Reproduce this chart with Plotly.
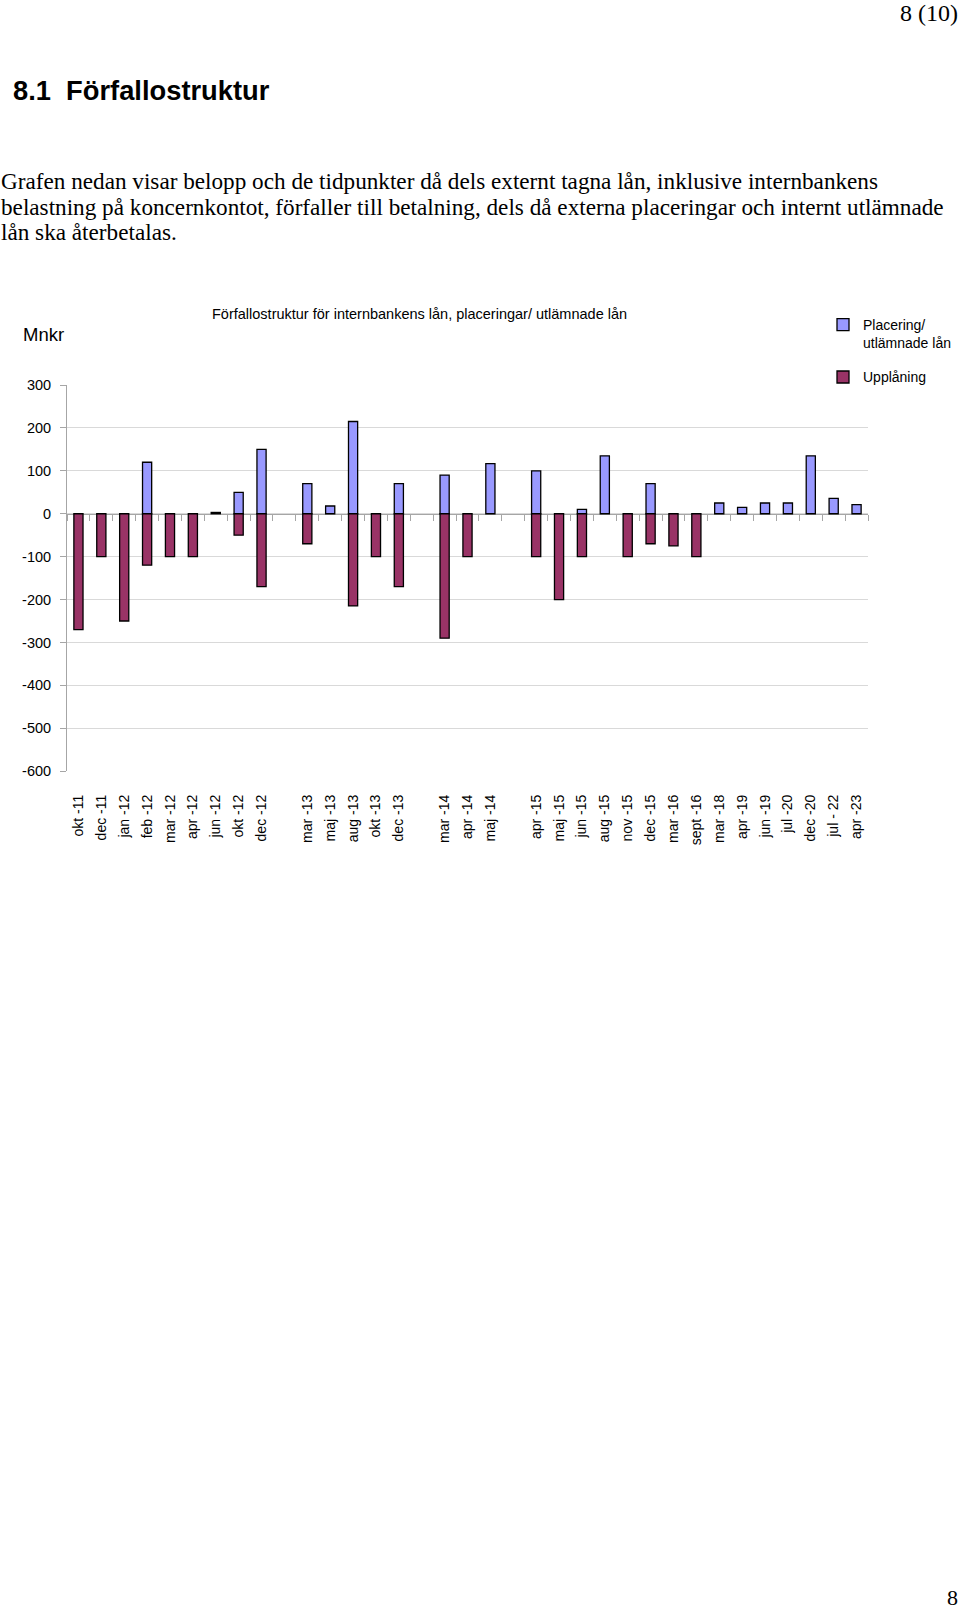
import plotly.graph_objects as go

# ---------------- data ----------------
categories = ["okt -11", "dec -11", "jan -12", "feb -12", "mar -12", "apr -12", "jun -12",
              "okt -12", "dec -12", " ", "mar -13", "maj -13", "aug -13", "okt -13",
              "dec -13", "  ", "mar -14", "apr -14", "maj -14", "   ", "apr -15",
              "maj -15", "jun -15", "aug -15", "nov -15", "dec -15", "mar -16",
              "sept -16", "mar -18", "apr -19", "jun -19", "jul -20", "dec -20",
              "jul - 22", "apr -23"]

placering = [None, None, None, 120, None, None, 3, 50, 150, None, 70, 18, 215, None,
             70, None, 90, None, 117, None, 100, None, 10, 135, None, 70, None,
             None, 25, 15, 25, 25, 135, 36, 21]

upplaning = [-270, -100, -250, -120, -100, -100, None, -50, -170, None, -70, None, -215,
             -100, -170, None, -290, -100, None, None, -100, -200, -100, None, -100,
             -70, -75, -100, None, None, None, None, None, None, None]

y_ticks = [300, 200, 100, 0, -100, -200, -300, -400, -500, -600]
grid_vals = [200, 100, 0, -100, -200, -300, -400, -500]

series_names = ["Placering/<br>utlämnade lån", "Upplåning"]
chart_title = "Förfallostruktur för internbankens lån, placeringar/ utlämnade lån"

# ---------------- geometry helpers ----------------
W, H = 960, 1611
def fx(px):
    return px / W
def fy(py):
    return 1 - py / H

x_dom = [fx(67), fx(868)]
y_dom = [fy(770.8), fy(380.8)]
y_range = [-600, 300]
zero_pos = y_dom[0] + (y_dom[1] - y_dom[0]) * (0 - y_range[0]) / (y_range[1] - y_range[0])

SANS = "Liberation Sans, Arial, sans-serif"
SERIF = "Liberation Serif, Times New Roman, serif"

fig = go.Figure()
fig.add_trace(go.Bar(x=categories, y=placering, name=series_names[0], legendgroup="p",
                     marker=dict(color="#9999FF", line=dict(color="#000000", width=1.3)),
                     width=0.4))
fig.add_trace(go.Bar(x=categories, y=upplaning, name=series_names[1], legendgroup="u",
                     marker=dict(color="#993366", line=dict(color="#000000", width=1.3)),
                     width=0.4))
# helper trace for the overlay axes (zero line ticks + gridlines)
fig.add_trace(go.Scatter(x=categories, y=[None] * len(categories), xaxis="x2", yaxis="y2",
                         showlegend=False, hoverinfo="skip", mode="lines"))

n = len(categories)
fig.update_layout(
    width=W, height=H,
    margin=dict(l=0, r=0, t=0, b=0),
    paper_bgcolor="white", plot_bgcolor="rgba(0,0,0,0)",
    barmode="relative",
    showlegend=True,
    font=dict(family=SANS, size=14, color="#000000"),
    title=dict(text="8 (10)", x=fx(958), xanchor="right", xref="paper",
               y=1 - 12.5 / H, yref="container", yanchor="middle",
               font=dict(family=SERIF, size=24, color="#000000")),
    xaxis=dict(domain=x_dom, anchor="y", type="category",
               categoryorder="array", categoryarray=categories, range=[-0.5, n - 0.5],
               showline=False, showgrid=False, zeroline=False,
               ticks="outside", ticklen=17, tickcolor="rgba(0,0,0,0)",
               tickangle=-90, tickfont=dict(family=SANS, size=14, color="#000000")),
    yaxis=dict(domain=y_dom, anchor="x", range=y_range,
               tickvals=y_ticks, ticktext=[str(v) for v in y_ticks],
               showline=True, linecolor="#A6A6A6", linewidth=1,
               ticks="outside", ticklen=6, tickcolor="#A6A6A6",
               ticklabelstandoff=6,
               showgrid=False, zeroline=False,
               tickfont=dict(family=SANS, size=14.5, color="#000000")),
    xaxis2=dict(overlaying="x", anchor="free", position=zero_pos, type="category",
                categoryorder="array", categoryarray=categories, range=[-0.5, n - 0.5],
                showline=True, linecolor="#A6A6A6", linewidth=1, layer="below traces",
                ticks="outside", ticklen=6, tickcolor="#A6A6A6", tickson="boundaries",
                showticklabels=False, showgrid=False, zeroline=False),
    yaxis2=dict(overlaying="y", anchor="x2", range=y_range,
                tickvals=grid_vals, showticklabels=False, ticks="",
                showgrid=True, gridcolor="#D9D9D9", gridwidth=1,
                showline=False, zeroline=False),
    legend=dict(x=fx(823), y=fy(304), xanchor="left", yanchor="top",
                valign="top", bgcolor="rgba(0,0,0,0)",
                font=dict(family=SANS, size=14, color="#000000"),
                tracegroupgap=13),
)

annotations = [
    dict(text="<b>8.1  Förfallostruktur</b>", x=fx(12), y=fy(83.5), xanchor="left",
         yanchor="middle", font=dict(family=SANS, size=27.3)),
    dict(text="Grafen nedan visar belopp och de tidpunkter då dels externt tagna lån, inklusive internbankens",
         x=fx(0), y=fy(174.5), xanchor="left", yanchor="middle", font=dict(family=SERIF, size=23.2)),
    dict(text="belastning på koncernkontot, förfaller till betalning, dels då externa placeringar och internt utlämnade",
         x=fx(0), y=fy(200.5), xanchor="left", yanchor="middle", font=dict(family=SERIF, size=23.2)),
    dict(text="lån ska återbetalas.",
         x=fx(0), y=fy(226.5), xanchor="left", yanchor="middle", font=dict(family=SERIF, size=23.2)),
    dict(text=chart_title, x=fx(211), y=fy(309.5), xanchor="left", yanchor="middle",
         font=dict(family=SANS, size=14.5)),
    dict(text="Mnkr", x=fx(22), y=fy(330), xanchor="left", yanchor="middle",
         font=dict(family=SANS, size=18.5)),
    dict(text="8", x=fx(959), y=fy(1605), xanchor="right", yanchor="middle",
         font=dict(family=SERIF, size=22)),
]
for a in annotations:
    a.update(xref="paper", yref="paper", showarrow=False, borderpad=0)
fig.update_layout(annotations=annotations)

fig.write_html("out.html", config={"displayModeBar": False},
               post_script="document.body.style.margin='0';document.body.style.overflow='hidden';")
